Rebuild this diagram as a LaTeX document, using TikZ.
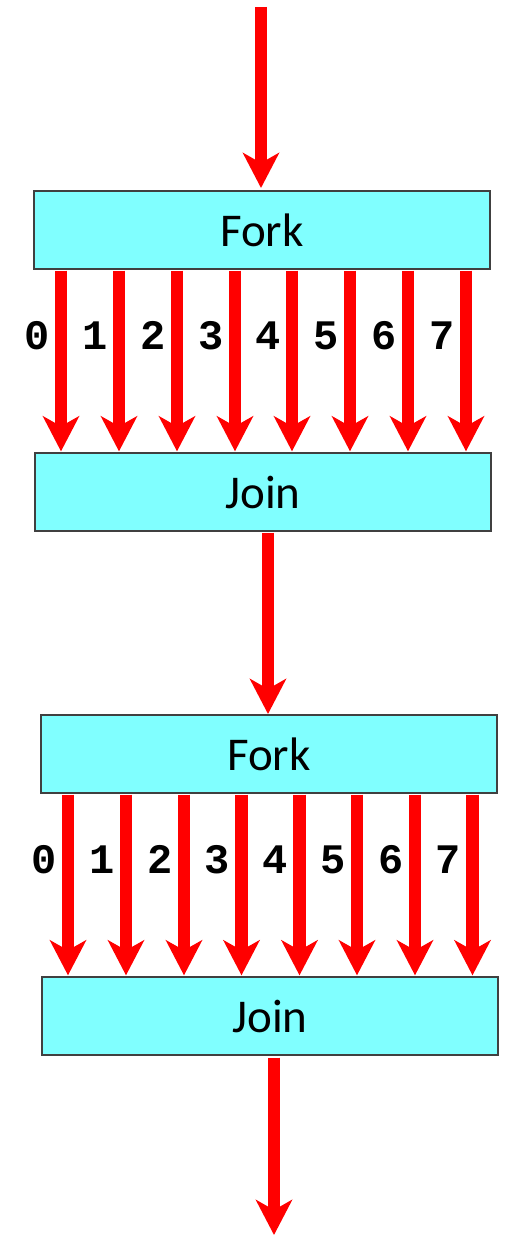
\documentclass[tikz,border=0pt]{standalone}
\usepackage{fontspec}
\setmainfont{Carlito}
\newfontfamily\digitfont{Liberation Mono}
\usetikzlibrary{arrows.meta,calc}
\definecolor{boxcyan}{HTML}{80FFFF}
\definecolor{boxedge}{HTML}{404040}
\definecolor{arrred}{HTML}{FF0000}
\tikzset{
  stagebox/.style={draw=boxedge, line width=1.3pt, fill=boxcyan, rectangle,
    minimum width=456pt, minimum height=78pt, inner sep=0pt,
    font=\fontsize{47}{56}\selectfont},
  redarrow/.style={draw=arrred, line width=12.5pt,
    -{Stealth[length=35pt,width=36pt,inset=10pt]}},
  lanelabel/.style={font=\digitfont\bfseries\fontsize{42}{50}\selectfont, inner sep=0pt, anchor=base}
}
\begin{document}
\begin{tikzpicture}[x=1pt,y=-1pt]
\useasboundingbox (0,0) rectangle (506,1236);
\node[stagebox] (fork1) at (262,230) {Fork};
\node[stagebox] (join1) at (263,492) {Join};
\node[stagebox] (fork2) at (269,754) {Fork};
\node[stagebox] (join2) at (270,1016) {Join};
\coordinate (top) at (261,7);
\coordinate (bot) at (274,1235);
\draw[redarrow] (top) -- (top |- 0,188);
\draw[redarrow] (join1.south -| 268,0) ++(0,1) -- (268,714);
\draw[redarrow] (join2.south -| bot) ++(0,2) -- (bot);
\foreach \i/\x in {0/61,1/119,2/177,3/235,4/292,5/350,6/408,7/466}{
  \coordinate (a\i) at (\x,0);
  \draw[redarrow] ($(fork1.south -| a\i)+(0,1)$) -- ($(join1.north -| a\i)+(0,-1)$);
  \node[lanelabel] (l\i) at (\x-24,349) {\i};
}
\foreach \i/\x in {0/68,1/126,2/184,3/241.5,4/299.5,5/357,6/415,7/472.5}{
  \coordinate (b\i) at (\x,0);
  \draw[redarrow] ($(fork2.south -| b\i)+(0,1)$) -- ($(join2.north -| b\i)+(0,-1)$);
  \node[lanelabel] (m\i) at (\x-24,873) {\i};
}
\end{tikzpicture}
\end{document}
